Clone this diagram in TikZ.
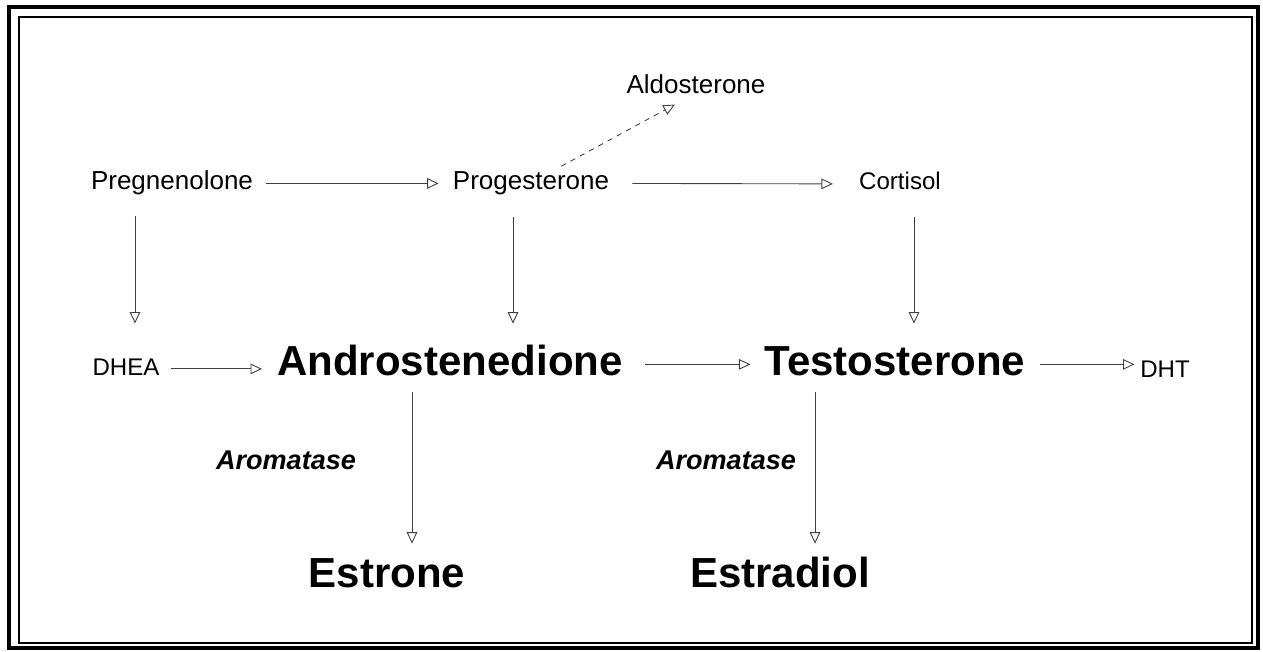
\documentclass[tikz,border=0pt]{standalone}
\usepackage{fontspec}
\setmainfont{Liberation Sans}
\usetikzlibrary{arrows.meta,calc}

\begin{document}
\begin{tikzpicture}[x=0.2mm, y=-0.2mm,
  major/.style={font=\fontsize{23.9}{28}\selectfont\bfseries, inner sep=0pt, text height=17.1pt, text depth=5pt, anchor=base},
  metab/.style={font=\fontsize{14.8}{18}\selectfont, inner sep=0pt, text height=10.6pt, text depth=3.1pt, anchor=base},
  minor/.style={font=\fontsize{13.7}{16}\selectfont, inner sep=0pt, text height=9.8pt, text depth=2.9pt, anchor=base},
  enzyme/.style={font=\fontsize{15.4}{18}\selectfont\bfseries\itshape, inner sep=0pt, anchor=base},
  conv/.style={-{Triangle[open,length=6.5pt,width=6pt]}, draw=black!75, line width=0.5pt},
]
  \useasboundingbox (0,0) rectangle (1263,652);
  \draw[line width=0.8mm] (9,7) rectangle (1258,648);
  \draw[line width=0.3mm] (19,17) rectangle (1252,643);

  \node[metab] (aldo) at (696,94) {Aldosterone};
  \node[metab] (preg) at (172,190) {Pregnenolone};
  \node[metab] (prog) at (531,190) {Progesterone};
  \node[minor] (cort) at (900,190) {Cortisol};

  \node[minor] (dhea)  at (126,375) {DHEA};
  \node[major] (andro) at (450,375) {Androstenedione};
  \node[major] (testo) at (895,375) {Testosterone};
  \node[minor] (dht)   at (1165,377) {DHT};

  \node[enzyme] (arom1) at (286,469) {Aromatase};
  \node[enzyme] (arom2) at (726,469) {Aromatase};
  \node[major] (estrone)   at (387,587) {Estrone};
  \node[major] (estradiol) at (780,587) {Estradiol};

  \draw[conv, shorten <=2.6mm, shorten >=2.8mm] (preg.east) -- (prog.west);
  \draw[conv, shorten <=4.6mm, shorten >=5.2mm] (prog.east) -- (cort.west);
  \draw[conv, dashed, shorten <=2mm, shorten >=2mm] (prog.30) -- (aldo.-135);

  \draw[conv, shorten <=4mm, shorten >=6.8mm] ($(dhea.north |- preg.south)+(9,0)$) -- ($(dhea.north)+(9,0)$);
  \draw[conv, shorten <=4.3mm, shorten >=4.2mm] ($(prog.south)+(-18,0)$) -- ($(prog.south |- andro.north)+(-18,0)$);
  \draw[conv, shorten <=4.4mm, shorten >=4.2mm] ($(cort.south)+(14,0)$) -- ($(cort.south |- testo.north)+(14,0)$);

  \draw[conv, shorten <=2.2mm, shorten >=3mm] (dhea.east) -- (dhea.east -| andro.west);
  \draw[conv, shorten <=4.4mm, shorten >=2.8mm] (andro.east) -- (testo.west);
  \draw[conv, shorten <=2.8mm, shorten >=1.1mm] (testo.east) -- (testo.east -| dht.west);

  \draw[conv, shorten <=1.5mm, shorten >=2.6mm] ($(andro.south)+(-38,0)$) -- ($(andro.south |- estrone.north)+(-38,0)$);
  \draw[conv, shorten <=1.5mm, shorten >=2.6mm] ($(testo.south)+(-80,0)$) -- ($(testo.south |- estradiol.north)+(-80,0)$);
\end{tikzpicture}
\end{document}
